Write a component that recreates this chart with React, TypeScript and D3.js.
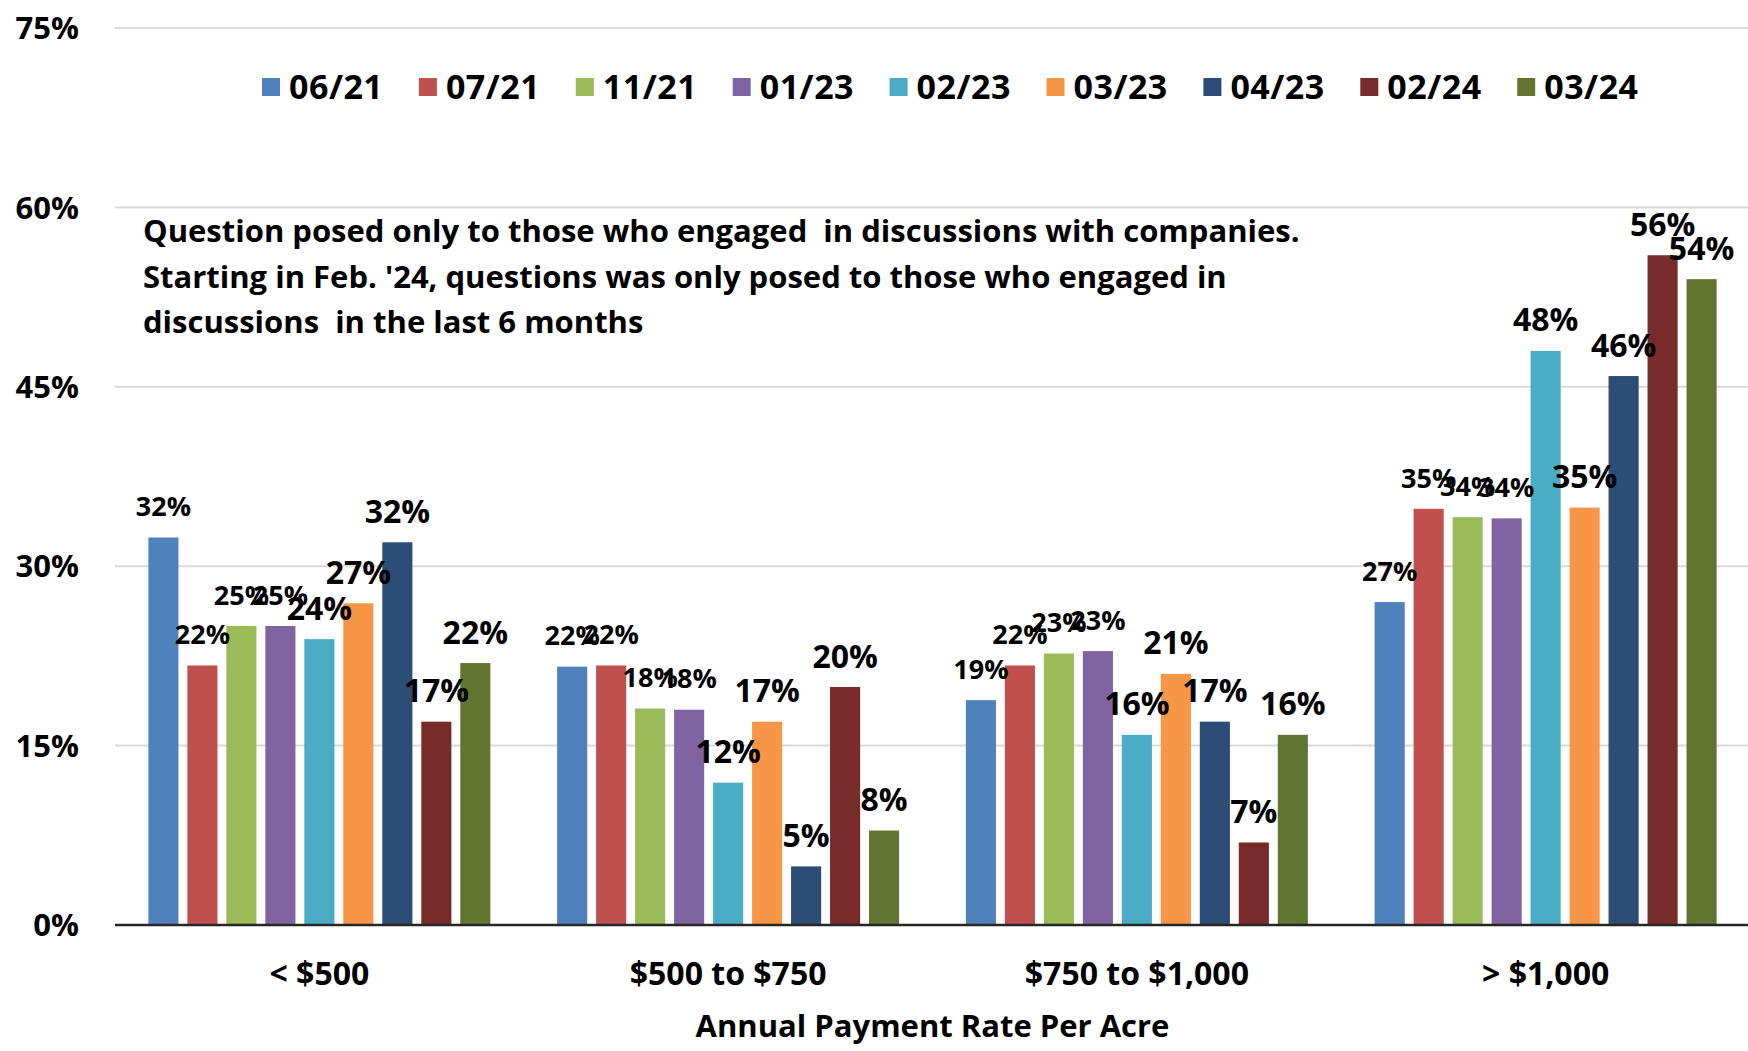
import React, { useRef, useEffect } from 'react';
import * as d3 from 'd3';

const categories = ['< $500', '$500 to $750', '$750 to $1,000', '> $1,000'];
const seriesNames = ['06/21', '07/21', '11/21', '01/23', '02/23', '03/23', '04/23', '02/24', '03/24'];
const seriesColors = ['#4F81BD', '#C0504D', '#9BBB59', '#8064A2', '#4BACC6', '#F79646', '#2C4D75', '#772C2A', '#617530'];

// one row per category, one value per survey wave (percent)
const lessThan500 = [32.4, 21.7, 25.0, 25.0, 23.9, 26.9, 32.0, 17.0, 21.9];
const from500to750 = [21.6, 21.7, 18.1, 18.0, 11.9, 17.0, 4.9, 19.9, 7.9];
const from750to1000 = [18.8, 21.7, 22.7, 22.9, 15.9, 21.0, 17.0, 6.9, 15.9];
const over1000 = [27.0, 34.8, 34.1, 34.0, 48.0, 34.9, 45.9, 56.0, 54.0];
const values = [lessThan500, from500to750, from750to1000, over1000];

const yTicks = [0, 15, 30, 45, 60, 75];

const noteLines = [
  'Question posed only to those who engaged  in discussions with companies.',
  "Starting in Feb. '24, questions was only posed to those who engaged in",
  'discussions  in the last 6 months',
];

const FONT = "'Open Sans', Lato, sans-serif";

const App: React.FC = () => {
  const svgRef = useRef<SVGSVGElement>(null);
  const width = 1748;
  const height = 1051;

  useEffect(() => {
    if (!svgRef.current) return;
    const svg = d3.select(svgRef.current);
    svg.selectAll('*').remove();

    const left = 115;
    const right = 1750;
    const y0 = 925;
    const yTop = 28;

    const x0 = d3.scaleBand<string>().domain(categories).range([left, right]);
    const groupW = 342;
    const offset = (x0.bandwidth() - groupW) / 2;
    const x1 = d3.scaleBand<string>()
      .domain(seriesNames)
      .range([offset, offset + groupW])
      .paddingInner(0.228);
    const y = d3.scaleLinear().domain([0, 75]).range([y0, yTop]);

    // gridlines
    svg.append('g')
      .selectAll('line')
      .data(yTicks.filter(t => t > 0))
      .enter()
      .append('line')
      .attr('x1', left)
      .attr('x2', width)
      .attr('y1', d => y(d))
      .attr('y2', d => y(d))
      .attr('stroke', '#d9d9d9')
      .attr('stroke-width', 2);

    // y tick labels
    svg.append('g')
      .selectAll('text')
      .data(yTicks)
      .enter()
      .append('text')
      .attr('x', 79)
      .attr('y', d => y(d))
      .attr('dy', '0.36em')
      .attr('text-anchor', 'end')
      .attr('font-family', FONT)
      .attr('font-weight', 'bold')
      .attr('font-size', 31)
      .attr('fill', '#000')
      .text(d => `${d}%`);

    // bars
    const groups = svg.append('g')
      .selectAll('g')
      .data(categories)
      .enter()
      .append('g')
      .attr('transform', d => `translate(${x0(d)},0)`);

    groups.selectAll('rect')
      .data((_, i) => values[i].map((v, j) => ({ v, s: seriesNames[j], j })))
      .enter()
      .append('rect')
      .attr('x', d => x1(d.s)!)
      .attr('y', d => y(d.v))
      .attr('width', x1.bandwidth())
      .attr('height', d => y0 - y(d.v))
      .attr('fill', d => seriesColors[d.j]);

    // data labels
    groups.selectAll('text')
      .data((_, i) => values[i].map((v, j) => ({ v, s: seriesNames[j], j })))
      .enter()
      .append('text')
      .attr('x', d => x1(d.s)! + x1.bandwidth() / 2)
      .attr('y', d => y(d.v) - 31)
      .attr('dy', '0.36em')
      .attr('text-anchor', 'middle')
      .attr('font-family', FONT)
      .attr('font-weight', 'bold')
      .attr('font-size', d => (d.j < 4 ? 27 : 32))
      .attr('fill', '#000')
      .text(d => `${Math.round(d.v)}%`);

    // baseline
    svg.append('line')
      .attr('x1', left)
      .attr('x2', width)
      .attr('y1', y0)
      .attr('y2', y0)
      .attr('stroke', '#262626')
      .attr('stroke-width', 2.5);

    // category labels
    svg.append('g')
      .selectAll('text')
      .data(categories)
      .enter()
      .append('text')
      .attr('x', d => x0(d)! + x0.bandwidth() / 2)
      .attr('y', 973)
      .attr('dy', '0.36em')
      .attr('text-anchor', 'middle')
      .attr('font-family', FONT)
      .attr('font-weight', 'bold')
      .attr('font-size', 32)
      .text(d => d);

    // axis title
    svg.append('text')
      .attr('x', (left + right) / 2)
      .attr('y', 1026)
      .attr('dy', '0.36em')
      .attr('text-anchor', 'middle')
      .attr('font-family', FONT)
      .attr('font-weight', 'bold')
      .attr('font-size', 31)
      .text('Annual Payment Rate Per Acre');

    // legend
    const legend = svg.append('g')
      .selectAll('g')
      .data(seriesNames)
      .enter()
      .append('g')
      .attr('transform', (_, i) => `translate(${262 + i * 156.9}, 87)`);
    legend.append('rect')
      .attr('x', 0)
      .attr('y', -9)
      .attr('width', 18)
      .attr('height', 18)
      .attr('fill', (_, i) => seriesColors[i]);
    legend.append('text')
      .attr('x', 27)
      .attr('y', 0)
      .attr('dy', '0.36em')
      .attr('font-family', FONT)
      .attr('font-weight', 'bold')
      .attr('font-size', 34)
      .attr('letter-spacing', 0.5)
      .text(d => d);

    // note
    svg.append('g')
      .selectAll('text')
      .data(noteLines)
      .enter()
      .append('text')
      .attr('x', 143)
      .attr('y', (_, i) => 231 + i * 45.5)
      .attr('dy', '0.36em')
      .attr('font-family', FONT)
      .attr('font-weight', 'bold')
      .attr('font-size', 31)
      .style('white-space', 'pre')
      .text(d => d);
  }, []);

  return (
    <div style={{ position: 'absolute', left: 0, top: 0, background: '#fff' }}>
      <svg ref={svgRef} width={width} height={height} style={{ display: 'block' }} />
    </div>
  );
};

export default App;
